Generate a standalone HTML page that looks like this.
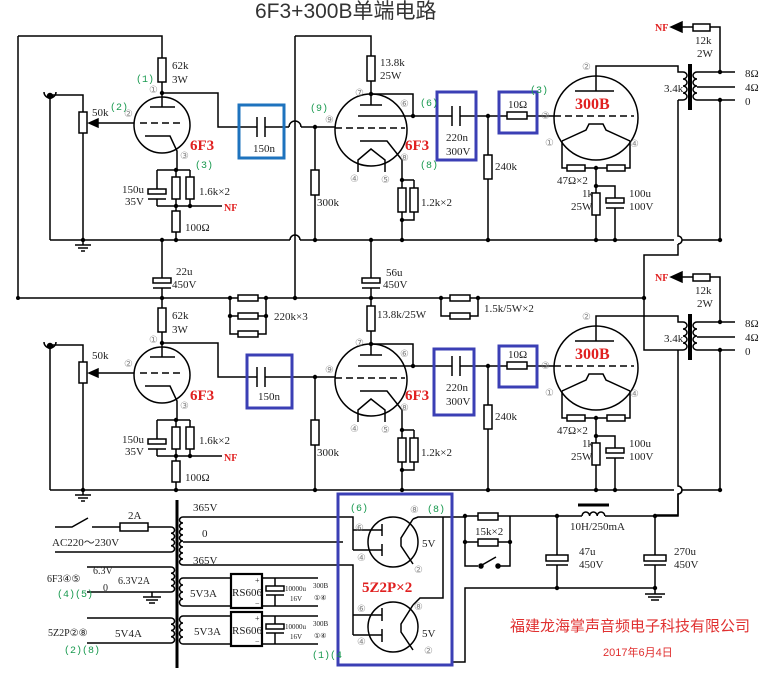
<!DOCTYPE html>
<html><head><meta charset="utf-8"><style>
html,body{margin:0;padding:0;background:#fff;}
svg{display:block;}
.s{font-family:"Liberation Serif",serif;font-size:11px;fill:#222;}
.p{font-family:"Liberation Sans","DejaVu Sans",sans-serif;font-size:10px;fill:#888;}
.g{font-family:"Liberation Mono",monospace;font-size:10px;fill:#1a9a50;}
.r{font-family:"Liberation Serif",serif;font-weight:bold;fill:#e02020;}
</style></head><body>
<svg width="773" height="673" viewBox="0 0 773 673" xmlns="http://www.w3.org/2000/svg">
<defs>
<g id="st" fill="none" stroke="#000" stroke-width="1.5">
 <path d="M44,92 A6,6 0 0 0 56,92"/><circle cx="50" cy="96" r="2.5" fill="#000"/>
 <path d="M52,95 H83 V112 M50,99 V240 M83,133 V240"/>
 <rect x="79" y="112" width="8" height="21"/>
 <path d="M134,123 H96"/><polygon points="89,123 98,119 98,127" fill="#000"/>
 <path d="M83,240 V245 M75,245 H91 M78,248 H88 M81,251 H85"/>
 <circle cx="162" cy="125" r="28"/>
 <path d="M162,93 V107 M150,107 H175 M145,136 H170 L177,151 V170"/>
 <path d="M140,123 H182" stroke-dasharray="7,4"/>
 <rect x="158" y="58" width="8" height="24"/><path d="M162,82 V93"/>
 <path d="M162,93 H218 V127 H257 M257,117 V137 M265,117 V137 M265,127 H335"/>
 <rect x="311" y="170" width="8" height="25"/><path d="M315,127 V170 M315,195 V240"/>
 <path d="M157,170 H190 M157,170 V189 M148,199 H166 M157,199 V206 M176,170 V177 M176,199 V206 M190,170 V177 M190,199 V206 M157,206 H222"/>
 <rect x="148" y="189" width="18" height="5"/>
 <rect x="172" y="177" width="8" height="22"/><rect x="186" y="177" width="8" height="22"/>
 <rect x="172" y="211" width="8" height="21"/><path d="M176,206 V211 M176,232 V240"/>
 <circle cx="371" cy="130" r="36"/>
 <path d="M360,105 H382 M371,105 V94 M371,81 V94 M371,94 H413 V116 M358,116 H413 M360,141 H387 L402,160 V180"/>
 <path d="M335,128 H405" stroke-dasharray="7,4"/>
 <path d="M358,172 V160 L371,149 L385,160 V172"/>
 <rect x="367" y="56" width="8" height="25"/>
 <path d="M402,180 H414 M402,180 V188 M414,180 V188 M402,212 V220 H414 V212 M402,220 V240"/>
 <rect x="398" y="188" width="8" height="24"/><rect x="410" y="188" width="8" height="24"/>
 <path d="M413,116 H452 M452,106 V126 M460,106 V126 M460,116 H507 M488,116 V155 M488,179 V240 M527,116 H554"/>
 <rect x="484" y="155" width="8" height="24"/><rect x="507" y="112" width="20" height="7"/>
 <circle cx="596" cy="118" r="42"/>
 <path d="M554,116 H634" stroke-dasharray="7,4"/>
 <path d="M575,91 H614 M596,91 V66 H678 V72 H683"/>
 <path d="M562,141 L586,130 L589,124 H603 L606,130 L630,141 M562,141 V168 H630 V141"/>
 <rect x="567" y="165" width="18" height="6" fill="#fff"/><rect x="607" y="165" width="18" height="6" fill="#fff"/>
 <path d="M596,168 V193 M596,186 H615 V198 M606,208 H624 M615,208 V240 M596,215 V240"/>
 <rect x="592" y="193" width="8" height="22"/><rect x="606" y="198" width="18" height="5"/>
 <path d="M683,72 a4,3.5 0 0 1 0,7 a4,3.5 0 0 1 0,7 a4,3.5 0 0 1 0,7 a4,3.5 0 0 1 0,7 H678"/>
 <path d="M689,64 V110 M691,64 V110" stroke-width="2"/>
 <path d="M697,72 a4,3.5 0 0 0 0,7 a4,3.5 0 0 0 0,7 a4,3.5 0 0 0 0,7 a4,3.5 0 0 0 0,7"/>
 <path d="M697,72 H735 M697,87 H735 M697,100 H735 M720,72 V27 H710 M693,27 H682 M720,100 V240"/>
 <rect x="693" y="24" width="17" height="7"/><polygon points="671,27 682,22 682,32" fill="#000"/>
 <path d="M678,100 V236 A4,4 0 0 1 678,244"/>
 <path d="M50,240 H674 M682,240 H720"/>
 <g fill="#000" stroke="none">
 <circle cx="162" cy="93" r="2.2"/><circle cx="315" cy="127" r="2.2"/><circle cx="176" cy="170" r="2.2"/><circle cx="176" cy="206" r="2.2"/><circle cx="190" cy="206" r="2.2"/>
 <circle cx="371" cy="94" r="2.2"/><circle cx="413" cy="116" r="2.2"/><circle cx="402" cy="180" r="2.2"/><circle cx="402" cy="220" r="2.2"/><circle cx="488" cy="116" r="2.2"/>
 <circle cx="596" cy="168" r="2.2"/><circle cx="596" cy="186" r="2.2"/><circle cx="720" cy="72" r="2.2"/><circle cx="720" cy="100" r="2.2"/>
 <circle cx="83" cy="240" r="2.2"/><circle cx="176" cy="240" r="2.2"/><circle cx="315" cy="240" r="2.2"/><circle cx="402" cy="240" r="2.2"/><circle cx="488" cy="240" r="2.2"/><circle cx="596" cy="240" r="2.2"/><circle cx="615" cy="240" r="2.2"/><circle cx="720" cy="240" r="2.2"/>
 </g>
</g>
</defs>
<text x="255" y="18" font-family="'Liberation Sans','Noto Sans CJK SC',sans-serif" font-size="21" fill="#333">6F3+300B单端电路</text>
<use href="#st"/>
<use href="#st" y="250"/>
<g fill="none" stroke="#000" stroke-width="1.5">
 <path d="M18,36 H162 V58 M18,36 V298 M295,36 H371 V56"/>
 <rect x="289" y="123" width="12" height="8" fill="#fff" stroke="none"/>
 <path d="M289,127 A6,6 0 0 1 301,127"/>
 <rect x="290" y="236" width="10" height="8" fill="#fff" stroke="none"/>
 <path d="M290,240 A5,5 0 0 1 300,240"/>
 <path d="M295,36 V298"/>
 <path d="M678,244 V255 H644 V350 H678"/>
 <path d="M18,298 H644"/>
 <path d="M162,240 V278 M153,288 H171 M162,288 V308 M371,240 V278 M362,288 H380 M371,288 V306"/>
 <rect x="153" y="278" width="18" height="5"/><rect x="362" y="278" width="18" height="5"/>
 <path d="M230,298 V334 H238 M258,334 H266 V298 M230,316 H238 M258,316 H266"/>
 <rect x="238" y="295" width="20" height="6" fill="#fff"/><rect x="238" y="313" width="20" height="6"/><rect x="238" y="331" width="20" height="6"/>
 <path d="M441,298 V316 H450 M470,316 H478 V298"/>
 <rect x="450" y="295" width="20" height="6" fill="#fff"/><rect x="450" y="313" width="20" height="6"/>
 <path d="M678,494 V515 H655"/>
 <path d="M177,500 V668" stroke-width="3"/>
 <path d="M55,527 H72 L88,518 M92,527 H120 M148,527 H171 M55,552 H171"/>
 <rect x="120" y="523" width="28" height="8"/>
 <path d="M171,527 a3.5,3.1 0 0 1 0,6.25 a3.5,3.1 0 0 1 0,6.25 a3.5,3.1 0 0 1 0,6.25 a3.5,3.1 0 0 1 0,6.25"/>
 <path d="M87,567 H171 M87,592 H171 M171,567 a3.5,3.1 0 0 1 0,6.25 a3.5,3.1 0 0 1 0,6.25 a3.5,3.1 0 0 1 0,6.25 a3.5,3.1 0 0 1 0,6.25"/>
 <path d="M152,592 V597 M143,597 H161 M146,600 H158 M149,603 H155"/>
 <path d="M87,618 H171 M87,643 H171 M171,618 a3.5,3.1 0 0 1 0,6.25 a3.5,3.1 0 0 1 0,6.25 a3.5,3.1 0 0 1 0,6.25 a3.5,3.1 0 0 1 0,6.25"/>
 <path d="M183,517 a3.5,3 0 0 0 0,6 a3.5,3 0 0 0 0,6 a3.5,3 0 0 0 0,6 a3.5,3 0 0 0 0,6 a3.5,3 0 0 0 0,6 a3.5,3 0 0 0 0,6 a3.5,3 0 0 0 0,6 a3.5,3 0 0 0 0,6"/>
 <path d="M183,517 H353 V550 M183,542 H343 M183,565 H353 V635"/>
 <path d="M183,578 a3.5,3.5 0 0 0 0,7 a3.5,3.5 0 0 0 0,7 a3.5,3.5 0 0 0 0,7 a3.5,3.5 0 0 0 0,7 M183,578 H231 M183,606 H231 M262,578 H318 M262,606 H318 M275,578 V586 M266,595 H284 M275,595 V606"/>
 <rect x="231" y="574" width="31" height="34" stroke-width="2.2"/><rect x="266" y="586" width="18" height="5"/>
 <path d="M183,616 a3.5,3.5 0 0 0 0,7 a3.5,3.5 0 0 0 0,7 a3.5,3.5 0 0 0 0,7 a3.5,3.5 0 0 0 0,7 M183,616 H231 M183,644 H231 M262,616 H318 M262,644 H318 M275,616 V624 M266,633 H284 M275,633 V644"/>
 <rect x="231" y="612" width="31" height="34" stroke-width="2.2"/><rect x="266" y="624" width="18" height="5"/>
 <circle cx="393" cy="542" r="25"/><circle cx="393" cy="627" r="25"/>
 <path d="M353,530 H382 M353,550 H382 M382,524 V536 M382,544 V556 M413,519 L401,538 V546 L413,564"/>
 <path d="M353,615 H382 M353,635 H382 M382,608 V621 M382,629 V642 M413,605 L401,624 V632 L413,650"/>
 <path d="M413,519 L418,517 H465 M443,517 V598 H420 L413,605"/>
 <path d="M452,662 H465 V588 H655 M465,516 V566 H478 M498,566 H510 V516 M465,542 H478 M498,542 H510"/>
 <path d="M465,516 H478 M498,516 H582 M605,516 H678 V494 A4,4 0 0 0 678,486"/>
 <rect x="478" y="513" width="20" height="7"/><rect x="478" y="539" width="20" height="7"/>
 <circle cx="481" cy="566" r="2" fill="#000"/><circle cx="498" cy="566" r="2" fill="#000"/><path d="M482,565 L496,557"/>
 <path d="M582,516 a3.8,4 0 0 1 7.6,0 a3.8,4 0 0 1 7.6,0 a3.8,4 0 0 1 7.6,0"/>
 <path d="M578,505 H609" stroke-width="3"/>
 <path d="M557,516 V555 M546,565 H568 M557,565 V588 M655,516 V555 M644,565 H666 M655,565 V588"/>
 <rect x="546" y="555" width="22" height="6"/><rect x="644" y="555" width="22" height="6"/>
 <path d="M655,588 V594 M645,594 H665 M648,597 H662 M651,600 H659"/>
 <g fill="#000" stroke="none">
 <circle cx="18" cy="298" r="2"/><circle cx="162" cy="298" r="2.2"/><circle cx="230" cy="298" r="2.2"/><circle cx="266" cy="298" r="2.2"/><circle cx="295" cy="298" r="2.2"/><circle cx="371" cy="298" r="2.2"/><circle cx="441" cy="298" r="2.2"/><circle cx="478" cy="298" r="2.2"/><circle cx="644" cy="298" r="2.2"/>
 <circle cx="162" cy="240" r="2.2"/><circle cx="371" cy="240" r="2.2"/><circle cx="230" cy="316" r="2.2"/><circle cx="266" cy="316" r="2.2"/>
 <circle cx="465" cy="516" r="2.2"/><circle cx="465" cy="542" r="2.2"/><circle cx="510" cy="542" r="2.2"/><circle cx="557" cy="516" r="2.2"/><circle cx="655" cy="516" r="2.2"/><circle cx="557" cy="588" r="2.2"/><circle cx="655" cy="588" r="2.2"/>
 </g>
</g>
<g fill="none" stroke-width="3">
 <rect x="239" y="105" width="45" height="53" stroke="#1e73be"/>
 <rect x="437" y="92" width="39" height="68" stroke="#3b3fb5"/>
 <rect x="499" y="92" width="38" height="41" stroke="#3b3fb5"/>
 <rect x="247" y="355" width="45" height="53" stroke="#3b3fb5"/>
 <rect x="434" y="349" width="40" height="66" stroke="#3b3fb5"/>
 <rect x="499" y="346" width="38" height="41" stroke="#3b3fb5"/>
 <rect x="338" y="494" width="114" height="171" stroke="#3b3fb5"/>
</g>
<g class="s">
 <text x="172" y="69">62k</text><text x="172" y="83">3W</text><text x="92" y="116">50k</text>
 <text x="122" y="193">150u</text><text x="125" y="205">35V</text><text x="199" y="195">1.6k×2</text><text x="185" y="231">100Ω</text>
 <text x="253" y="152">150n</text><text x="380" y="66">13.8k</text><text x="380" y="79">25W</text>
 <text x="317" y="206">300k</text><text x="421" y="206">1.2k×2</text><text x="446" y="141">220n</text><text x="446" y="155">300V</text>
 <text x="508" y="108">10Ω</text><text x="495" y="170">240k</text><text x="557" y="184">47Ω×2</text>
 <text x="582" y="197">1k</text><text x="571" y="210">25W</text><text x="629" y="197">100u</text><text x="629" y="210">100V</text>
 <text x="695" y="44">12k</text><text x="697" y="57">2W</text><text x="664" y="92">3.4k</text>
 <text x="745" y="77">8Ω</text><text x="745" y="91">4Ω</text><text x="745" y="105">0</text>
</g>
<g class="p">
 <text x="149" y="93">①</text><text x="124" y="117">②</text><text x="180" y="159">③</text>
 <text x="355" y="96">⑦</text><text x="325" y="123">⑨</text><text x="400" y="107">⑥</text><text x="400" y="161">⑧</text><text x="350" y="182">④</text><text x="381" y="183">⑤</text>
 <text x="541" y="119">③</text><text x="582" y="70">②</text><text x="545" y="146">①</text><text x="630" y="147">④</text>
</g>
<g class="g">
 <text x="136" y="82">(1)</text><text x="110" y="110">(2)</text><text x="195" y="168">(3)</text><text x="310" y="111">(9)</text>
 <text x="420" y="106">(6)</text><text x="420" y="168">(8)</text><text x="530" y="93">(3)</text>
</g>
<text class="r" x="190" y="150" font-size="15">6F3</text><text class="r" x="405" y="150" font-size="15">6F3</text>
<text class="r" x="575" y="109" font-size="16">300B</text>
<text class="r" x="224" y="211" font-size="10" font-weight="normal">NF</text><text class="r" x="655" y="31" font-size="10">NF</text>
<g class="s">
 <text x="176" y="275">22u</text><text x="172" y="288">450V</text><text x="386" y="276">56u</text><text x="383" y="288">450V</text>
 <text x="274" y="320">220k×3</text><text x="377" y="318">13.8k/25W</text><text x="484" y="312">1.5k/5W×2</text>
</g>
<g class="s">
 <text x="172" y="319">62k</text><text x="172" y="333">3W</text><text x="92" y="359">50k</text>
 <text x="122" y="443">150u</text><text x="125" y="455">35V</text><text x="199" y="444">1.6k×2</text><text x="185" y="481">100Ω</text>
 <text x="258" y="400">150n</text><text x="317" y="456">300k</text><text x="421" y="456">1.2k×2</text><text x="446" y="391">220n</text><text x="446" y="405">300V</text>
 <text x="508" y="358">10Ω</text><text x="495" y="420">240k</text><text x="557" y="434">47Ω×2</text>
 <text x="582" y="447">1k</text><text x="571" y="460">25W</text><text x="629" y="447">100u</text><text x="629" y="460">100V</text>
 <text x="695" y="294">12k</text><text x="697" y="307">2W</text><text x="664" y="342">3.4k</text>
 <text x="745" y="327">8Ω</text><text x="745" y="341">4Ω</text><text x="745" y="355">0</text>
</g>
<g class="p">
 <text x="149" y="343">①</text><text x="124" y="367">②</text><text x="180" y="409">③</text>
 <text x="355" y="346">⑦</text><text x="325" y="373">⑨</text><text x="400" y="357">⑥</text><text x="400" y="411">⑧</text><text x="350" y="432">④</text><text x="381" y="433">⑤</text>
 <text x="541" y="369">③</text><text x="582" y="320">②</text><text x="545" y="396">①</text><text x="630" y="397">④</text>
</g>
<text class="r" x="190" y="400" font-size="15">6F3</text><text class="r" x="405" y="400" font-size="15">6F3</text>
<text class="r" x="575" y="359" font-size="16">300B</text>
<text class="r" x="224" y="461" font-size="10" font-weight="normal">NF</text><text class="r" x="655" y="281" font-size="10">NF</text>
<g class="s">
 <text x="128" y="519">2A</text><text x="52" y="546">AC220～230V</text>
 <text x="193" y="511">365V</text><text x="202" y="537">0</text><text x="193" y="564">365V</text>
 <text x="47" y="582" font-size="10">6F3④⑤</text><text x="93" y="574" font-size="10">6.3V</text><text x="118" y="584" font-size="10">6.3V2A</text><text x="103" y="591" font-size="10">0</text>
 <text x="48" y="636" font-size="10">5Z2P②⑧</text><text x="115" y="637">5V4A</text>
 <text x="190" y="597">5V3A</text><text x="194" y="635">5V3A</text>
 <text x="232" y="596" font-size="11">RS606</text><text x="232" y="634" font-size="11">RS606</text>
 <text x="255" y="583" font-size="8">+</text><text x="255" y="606" font-size="8">−</text><text x="255" y="621" font-size="8">+</text><text x="255" y="644" font-size="8">−</text>
 <text x="285" y="591" font-size="7">10000u</text><text x="290" y="601" font-size="7">16V</text><text x="313" y="588" font-size="7">300B</text><text x="314" y="600" font-size="7">①④</text>
 <text x="285" y="629" font-size="7">10000u</text><text x="290" y="639" font-size="7">16V</text><text x="313" y="626" font-size="7">300B</text><text x="314" y="638" font-size="7">①④</text>
 <text x="422" y="547">5V</text><text x="422" y="637">5V</text>
 <text x="475" y="535">15k×2</text><text x="570" y="530">10H/250mA</text>
 <text x="579" y="555">47u</text><text x="579" y="568">450V</text><text x="674" y="555">270u</text><text x="674" y="568">450V</text>
</g>
<g class="p">
 <text x="355" y="531">⑥</text><text x="357" y="561">④</text><text x="410" y="513">⑧</text><text x="414" y="573">②</text>
 <text x="357" y="612">⑥</text><text x="357" y="645">④</text><text x="414" y="610">⑧</text><text x="424" y="654">②</text>
</g>
<g class="g">
 <text x="57" y="597">(4)(5)</text><text x="64" y="653">(2)(8)</text><text x="312" y="658">(1)(4</text>
 <text x="350" y="511">(6)</text><text x="427" y="512">(8)</text>
</g>
<text class="r" x="362" y="592" font-size="15">5Z2P×2</text>
<text x="510" y="631" font-family="'Liberation Sans','Noto Sans CJK SC',sans-serif" font-size="15" fill="#e03030">福建龙海掌声音频电子科技有限公司</text>
<text x="603" y="656" font-family="'Liberation Sans','Noto Sans CJK SC',sans-serif" font-size="11" fill="#e03030">2017年6月4日</text>
</svg>
</body></html>
